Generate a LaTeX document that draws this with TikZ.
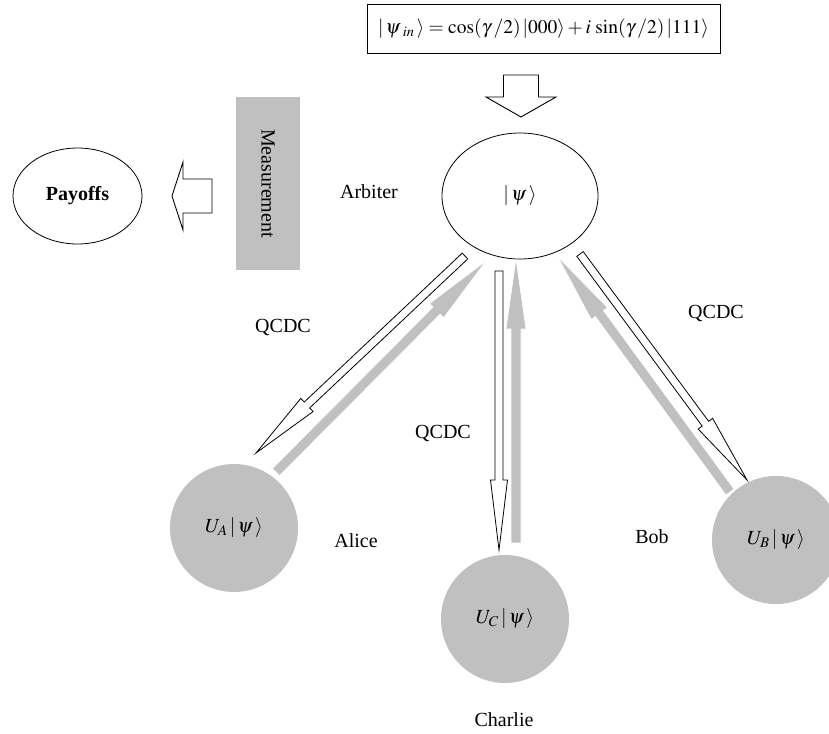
\documentclass[tikz,border=0pt]{standalone}
\usepackage{mathptmx}
\usepackage{fontspec}
\setmainfont{Liberation Serif}
\usetikzlibrary{shapes.geometric,calc}
\definecolor{pgray}{RGB}{192,192,192}
\newcommand\blockarrow[6]{%
  \coordinate (bahead) at ($(#3)!#6!(#2)$);
  \path[#1] ($(#2)!#4!90:(#3)$) -- ($(bahead)!#4!90:(#3)$) -- ($(bahead)!#5!90:(#3)$) -- (#3)
    -- ($(bahead)!#5!-90:(#3)$) -- ($(bahead)!#4!-90:(#3)$) -- ($(#2)!#4!-90:(#3)$) -- cycle;
}
\begin{document}
\begin{tikzpicture}[x=1pt,y=-1pt,
  every node/.style={font=\fontsize{20}{24}\selectfont},
  hollow/.style={fill=white,draw=black,line width=0.8pt,line join=miter},
  grayarr/.style={fill=pgray,draw=white,line width=0.6pt},
  bigarrow/.style={fill=white,draw=black,line width=0.9pt},
  player/.style={circle,fill=pgray,minimum size=128pt,inner sep=0pt},
  lbl/.style={inner sep=0pt}]
\useasboundingbox (0,0) rectangle (829,733);

% input state box
\node[draw,line width=0.9pt,minimum width=353pt,minimum height=49pt,inner sep=0pt,
      font=\fontsize{19.5}{24}\selectfont] (inbox) at (543.5,28.5)
  {$|\,\psi\,{}_{in}\,\rangle=\cos(\gamma\,/2)\,|000\rangle+i\,\sin(\gamma\,/2)\,|111\rangle$};

% arbiter
\node[ellipse,draw,line width=0.8pt,minimum width=156pt,minimum height=126pt,inner sep=0pt] (arb) at (520,196) {$|\,\psi\,\rangle$};
\node[lbl] (arbl) at (369,192) {Arbiter};

% measurement and payoffs
\node[fill=pgray,rotate=-90,minimum width=173pt,minimum height=64pt,inner sep=0pt] (meas) at (268,183.5) {Measurement};
\node[ellipse,draw,line width=0.8pt,minimum width=129pt,minimum height=96pt,inner sep=0pt] (pay) at (77.5,196) {\textbf{Payoffs}};

% players
\node[player] (alice) at (234,528) {$U_{A}\,|\,\psi\,\rangle$};
\node[player] (charlie) at (505,619) {$U_{C}\,|\,\psi\,\rangle$};
\node[player] (bob) at (776,540) {$U_{B}\,|\,\psi\,\rangle$};
\node[lbl] (alicel) at (356,541) {Alice};
\node[lbl] (charliel) at (504,720) {Charlie};
\node[lbl] (bobl) at (652,537) {Bob};

% channel labels
\node[lbl] (q1) at (283,327) {QCDC};
\node[lbl] (q2) at (443,433) {QCDC};
\node[lbl] (q3) at (716,313) {QCDC};

% big arrows
\coordinate (inT) at (521,75);
\coordinate (inH) at (521,117);
\blockarrow{bigarrow}{inT}{inH}{17.5pt}{35pt}{20pt}
\coordinate (mT) at (212,196);
\coordinate (mH) at (172,196);
\blockarrow{bigarrow}{mT}{mH}{17pt}{34pt}{11pt}

% Alice channel
\coordinate (aT) at (465,256);
\coordinate (aH) at (256,453);
\blockarrow{hollow}{aT}{aH}{4pt}{9pt}{70pt}
\coordinate (agT) at (276,472);
\coordinate (agH) at (486,261);
\blockarrow{grayarr}{agT}{agH}{5pt}{10pt}{70pt}

% Charlie channel
\coordinate (cT) at (499,271);
\coordinate (cH) at (499,550);
\blockarrow{hollow}{cT}{cH}{4pt}{8.5pt}{70pt}
\coordinate (cgT) at (516,543);
\coordinate (cgH) at (516,259);
\blockarrow{grayarr}{cgT}{cgH}{5pt}{10pt}{70pt}

% Bob channel
\coordinate (bT) at (580,254);
\coordinate (bH) at (747,480);
\blockarrow{hollow}{bT}{bH}{4pt}{9pt}{70pt}
\coordinate (bgT) at (730,492);
\coordinate (bgH) at (558,257);
\blockarrow{grayarr}{bgT}{bgH}{5pt}{10pt}{70pt}
\end{tikzpicture}
\end{document}
